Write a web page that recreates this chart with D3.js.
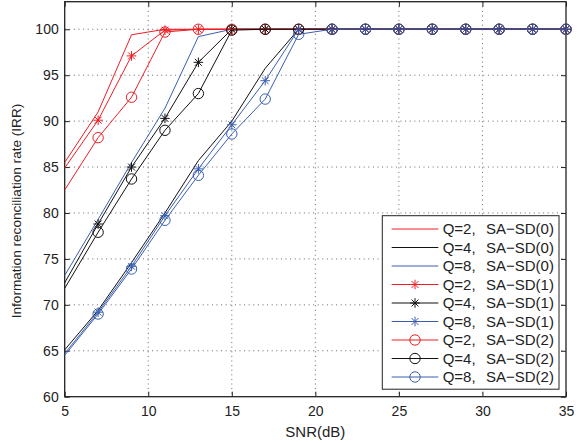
<!DOCTYPE html>
<html><head><meta charset="utf-8">
<script src="https://cdn.jsdelivr.net/npm/d3@7"></script>
<style>body{margin:0;background:#fff;} text{font-family:"Liberation Sans",Arial,sans-serif;}</style>
</head><body><svg id="c" width="587" height="443"></svg>
<script>
const snr = [5,7,9,11,13,15,17,19,21,23,25,27,29,31,33,35];
const q2sd0 = [85.5,91.0,99.4,100,100,100,100,100,100,100,100,100,100,100,100,100];
const q4sd0 = [65.1,69.4,74.6,80.0,85.7,90.0,95.75,100,100,100,100,100,100,100,100,100];
const q8sd0 = [73.2,79.3,85.5,91.4,99.2,100,100,100,100,100,100,100,100,100,100,100];
const q2sd1 = [84.9,90.1,97.1,99.9,100,100,100,100,100,100,100,100,100,100,100,100];
const q4sd1 = [72.4,78.8,85.0,90.3,96.4,100,100,100,100,100,100,100,100,100,100,100];
const q8sd1 = [64.7,69.2,74.2,79.7,84.8,89.6,94.4,100,100,100,100,100,100,100,100,100];
const q2sd2 = [82.5,88.2,92.6,99.7,100,100,100,100,100,100,100,100,100,100,100,100];
const q4sd2 = [71.8,77.9,83.7,89.0,93.0,99.9,100,100,100,100,100,100,100,100,100,100];
const q8sd2 = [64.5,69.0,73.9,79.2,84.1,88.6,92.4,99.45,100,100,100,100,100,100,100,100];
const xTicks = [5,10,15,20,25,30,35];
const yTicks = [60,65,70,75,80,85,90,95,100];
const qLabels = ["Q=2,","Q=4,","Q=8,","Q=2,","Q=4,","Q=8,","Q=2,","Q=4,","Q=8,"];
const sdLabels = ["SA\u2212SD(0)","SA\u2212SD(0)","SA\u2212SD(0)","SA\u2212SD(1)","SA\u2212SD(1)","SA\u2212SD(1)","SA\u2212SD(2)","SA\u2212SD(2)","SA\u2212SD(2)"];

const RED="#ee1d24", BLK="#111111", BLU="#3a5fb2";
const series = [
  {v:q2sd0,c:RED,m:null},{v:q4sd0,c:BLK,m:null},{v:q8sd0,c:BLU,m:null},
  {v:q2sd1,c:RED,m:"star"},{v:q4sd1,c:BLK,m:"star"},{v:q8sd1,c:BLU,m:"star"},
  {v:q2sd2,c:RED,m:"circle"},{v:q4sd2,c:BLK,m:"circle"},{v:q8sd2,c:BLU,m:"circle"}
];

const L=64.7,R=566,T=1.7,B=396.7;
const x=d3.scaleLinear().domain([5,35]).range([L,R]);
const y=d3.scaleLinear().domain([60,103]).range([B,T]);
const svg=d3.select("#c");
const FF="Liberation Sans, Arial, sans-serif";

// grid
const g=svg.append("g");
xTicks.slice(1,-1).forEach(t=>g.append("line").attr("x1",x(t)).attr("x2",x(t)).attr("y1",T).attr("y2",B)
  .attr("stroke","#444").attr("stroke-width",0.8).attr("stroke-dasharray","1,3.6"));
yTicks.slice(1).forEach(t=>g.append("line").attr("x1",L).attr("x2",R).attr("y1",y(t)).attr("y2",y(t))
  .attr("stroke","#444").attr("stroke-width",0.8).attr("stroke-dasharray","1,3.6"));

// axes
const xa=svg.append("g").attr("transform",`translate(0,${B})`)
  .call(d3.axisBottom(x).tickValues(xTicks).tickSize(-5).tickPadding(9).tickFormat(d3.format("d")));
const ya=svg.append("g").attr("transform",`translate(${L},0)`)
  .call(d3.axisLeft(y).tickValues(yTicks).tickSize(-5).tickPadding(6).tickFormat(d3.format("d")));
const xt=svg.append("g").attr("transform",`translate(0,${T})`)
  .call(d3.axisTop(x).tickValues(xTicks).tickSize(-5).tickFormat(""));
const yr=svg.append("g").attr("transform",`translate(${R},0)`)
  .call(d3.axisRight(y).tickValues(yTicks).tickSize(-5).tickFormat(""));
[xa,ya,xt,yr].forEach(a=>{a.select(".domain").remove();a.selectAll("line").attr("stroke","#222");
  a.selectAll("text").attr("font-size",14).attr("fill","#222").attr("font-family",FF);});
svg.append("rect").attr("x",L).attr("y",T).attr("width",R-L).attr("height",B-T)
  .attr("fill","none").attr("stroke","#222").attr("stroke-width",1.3);

// series
const line=d3.line().x((d,i)=>x(snr[i])).y(d=>y(d));
function marker(sel,m,c,cx,cy){
  if(m==="circle"){
    sel.append("circle").attr("cx",cx).attr("cy",cy).attr("r",5.2).attr("fill","none").attr("stroke",c).attr("stroke-width",1);
  } else if(m==="star"){
    const r=4.8;
    const p=`M${cx-r},${cy}H${cx+r}M${cx},${cy-r}V${cy+r}M${cx-r*0.72},${cy-r*0.72}L${cx+r*0.72},${cy+r*0.72}M${cx-r*0.72},${cy+r*0.72}L${cx+r*0.72},${cy-r*0.72}`;
    sel.append("path").attr("d",p).attr("stroke",c).attr("stroke-width",1).attr("fill","none");
  }
}
const plot=svg.append("g");
series.forEach(s=>{
  const gg=plot.append("g");
  gg.append("path").attr("d",line(s.v)).attr("fill","none").attr("stroke",s.c).attr("stroke-width",1);
  // markers are not shown on the left axis limit in the reference
  if(s.m) s.v.forEach((d,i)=>{ if(snr[i]>x.domain()[0]) marker(gg,s.m,s.c,x(snr[i]),y(d)); });
});

// legend
const lg=svg.append("g");
const lx=382.3, ly=215.7, lw=176.7, rh=18.5;
lg.append("rect").attr("x",lx).attr("y",ly).attr("width",lw).attr("height",rh*9+7)
  .attr("fill","#fff").attr("stroke","#222").attr("stroke-width",1);
series.forEach((s,i)=>{
  const cy=ly+13.3+i*rh;
  lg.append("line").attr("x1",lx+9.4).attr("x2",lx+56).attr("y1",cy).attr("y2",cy).attr("stroke",s.c).attr("stroke-width",1);
  if(s.m) marker(lg,s.m,s.c,lx+32.7,cy);
  const t=lg.append("text").attr("y",cy+5.3).attr("font-size",15).attr("fill","#222").attr("font-family",FF);
  t.append("tspan").attr("x",lx+60.4).text(qLabels[i]);
  t.append("tspan").attr("x",lx+103.7).text(sdLabels[i]);
});

// axis titles
svg.append("text").attr("x",x(20)).attr("y",437).attr("text-anchor","middle").attr("font-size",15).attr("fill","#222").attr("font-family",FF).text("SNR(dB)");
svg.append("text").attr("transform",`translate(21,211) rotate(-90)`).attr("text-anchor","middle")
  .attr("font-size",13.6).attr("fill","#222").attr("font-family",FF).text("Information reconciliation rate (IRR)");
</script></body></html>
